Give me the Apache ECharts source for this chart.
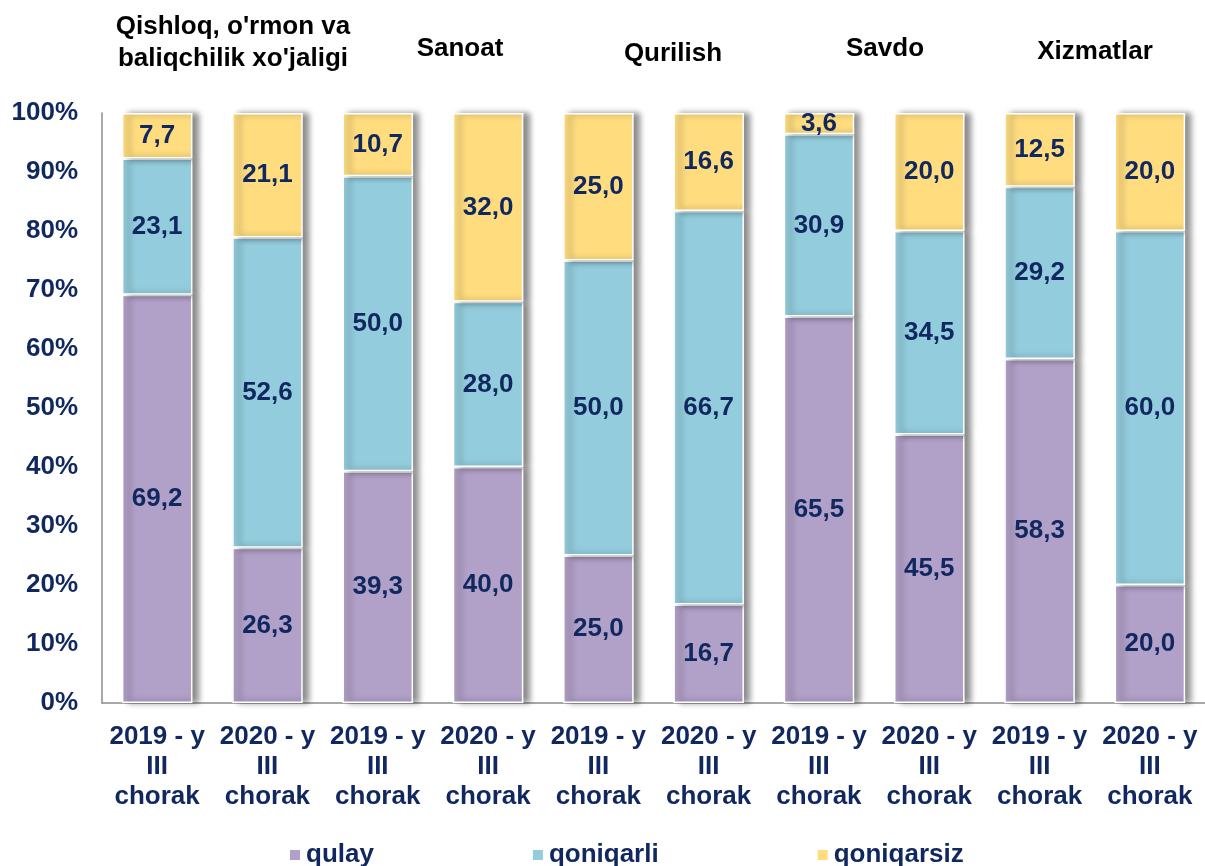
<!DOCTYPE html>
<html>
<head>
<meta charset="utf-8">
<script src="https://cdn.jsdelivr.net/npm/echarts@6/dist/echarts.min.js"></script>
<style>
  html, body { margin: 0; padding: 0; background: #fff; }
  #chart { width: 1205px; height: 866px; }
</style>
</head>
<body>
<div id="chart"></div>
<script>
const categories = [
  '2019 - y\nIII\nchorak', '2020 - y\nIII\nchorak',
  '2019 - y\nIII\nchorak', '2020 - y\nIII\nchorak',
  '2019 - y\nIII\nchorak', '2020 - y\nIII\nchorak',
  '2019 - y\nIII\nchorak', '2020 - y\nIII\nchorak',
  '2019 - y\nIII\nchorak', '2020 - y\nIII\nchorak'
]
const qulay = [69.2, 26.3, 39.3, 40.0, 25.0, 16.7, 65.5, 45.5, 58.3, 20.0]
const qoniqarli = [23.1, 52.6, 50.0, 28.0, 50.0, 66.7, 30.9, 34.5, 29.2, 60.0]
const qoniqarsiz = [7.7, 21.1, 10.7, 32.0, 25.0, 16.6, 3.6, 20.0, 12.5, 20.0]
const groupTitles = ["Qishloq, o'rmon va\nbaliqchilik xo'jaligi", 'Sanoat', 'Qurilish', 'Savdo', 'Xizmatlar']

const textColor = '#10285F'
const font = 'Arial, "Liberation Sans", sans-serif'
const fs = 26

const chart = echarts.init(document.getElementById('chart'))

function makeSeries(name, data, color) {
  return {
    name: name,
    type: 'bar',
    stack: 'total',
    barWidth: '64%',
    data: data,
    itemStyle: {
      color: color,
      borderColor: '#fff',
      borderWidth: 1.5,
      shadowColor: 'rgba(0,0,0,0.45)',
      shadowBlur: 6,
      shadowOffsetX: 6
    },
    label: {
      show: true,
      position: 'inside',
      color: textColor,
      fontFamily: font,
      fontWeight: 'bold',
      fontSize: fs,
      formatter: p => p.value.toFixed(1).replace('.', ',')
    }
  }
}

// group headings, one per pair of bars
const titleCenters = [233, 460, 673, 885, 1095]
const titleTops = [11, 33, 38, 33, 36]

chart.setOption({
  animation: false,
  grid: { left: 102, top: 113, width: 1110, height: 590, containLabel: false },
  xAxis: {
    type: 'category',
    data: categories,
    axisLine: { lineStyle: { color: '#8c8c8c', width: 1.5 } },
    axisTick: { show: false },
    axisLabel: {
      color: textColor,
      fontFamily: font,
      fontWeight: 'bold',
      fontSize: fs,
      lineHeight: 30,
      margin: 19,
      interval: 0
    }
  },
  yAxis: {
    type: 'value',
    min: 0,
    max: 100,
    interval: 10,
    axisLine: { show: true, lineStyle: { color: '#8c8c8c', width: 1.5 } },
    axisTick: { show: false },
    splitLine: { show: false },
    axisLabel: {
      color: textColor,
      fontFamily: font,
      fontWeight: 'bold',
      fontSize: fs,
      margin: 24,
      formatter: '{value}%'
    }
  },
  legend: {
    top: 837,
    left: 283,
    itemWidth: 12,
    itemHeight: 12,
    itemGap: 157,
    icon: 'rect',
    textStyle: { color: textColor, fontFamily: font, fontWeight: 'bold', fontSize: fs }
  },
  graphic: groupTitles.map((t, i) => ({
    type: 'text',
    x: titleCenters[i],
    y: titleTops[i],
    style: {
      text: t,
      align: 'center',
      fill: '#000',
      font: 'bold ' + fs + 'px ' + font,
      lineHeight: 32
    }
  })),
  series: [
    makeSeries('qulay', qulay, '#B1A0C7'),
    makeSeries('qoniqarli', qoniqarli, '#93CDDD'),
    makeSeries('qoniqarsiz', qoniqarsiz, '#FFDD7F')
  ]
})
</script>
</body>
</html>
